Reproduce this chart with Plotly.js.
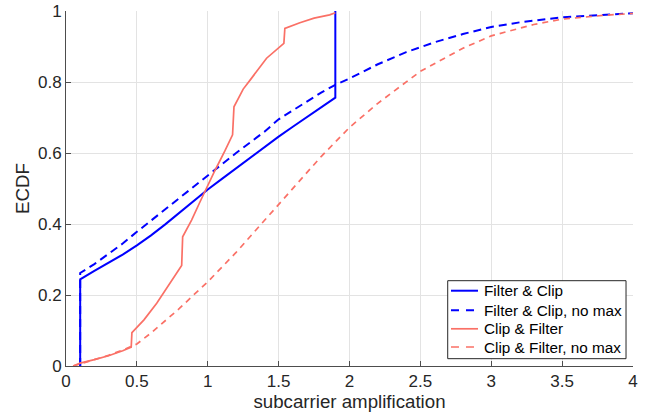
<!DOCTYPE html>
<html>
<head>
<meta charset="utf-8">
<script src="https://cdn.plot.ly/plotly-3.0.1.min.js"></script>
<style>html,body{margin:0;padding:0;background:#fff;}#chart{width:649px;height:418px;}</style>
</head>
<body>
<div id="chart"></div>
<script>
// Filter & Clip (solid blue)
const fcX = [0.1, 0.1, 0.2, 0.3, 0.4, 0.5, 0.6, 0.7, 0.8, 0.9, 1.0, 1.1, 1.2, 1.3, 1.4, 1.5, 1.6, 1.7, 1.8, 1.9, 1.9];
const fcY = [0.0, 0.244, 0.268, 0.291, 0.314, 0.34, 0.368, 0.399, 0.432, 0.465, 0.497, 0.527, 0.557, 0.587, 0.617, 0.646, 0.674, 0.702, 0.73, 0.756, 1.0];

// Filter & Clip, no max (dashed blue)
const fcnX = [0.1, 0.1, 0.2, 0.3, 0.4, 0.5, 0.6, 0.7, 0.8, 0.9, 1.0, 1.1, 1.2, 1.3, 1.4, 1.5, 1.6, 1.7, 1.8, 1.9, 2.0, 2.2, 2.4, 2.6, 2.8, 3.0, 3.2, 3.5, 3.8, 4.0];
const fcnY = [0.0, 0.262, 0.287, 0.315, 0.345, 0.378, 0.41, 0.44, 0.472, 0.505, 0.537, 0.568, 0.6, 0.63, 0.66, 0.695, 0.72, 0.745, 0.77, 0.792, 0.81, 0.85, 0.884, 0.912, 0.935, 0.955, 0.968, 0.982, 0.99, 0.994];

// Clip & Filter (solid red)
const cfX = [0.05, 0.1, 0.2, 0.3, 0.4, 0.46, 0.465, 0.55, 0.64, 0.72, 0.816, 0.823, 0.886, 0.945, 0.985, 1.05, 1.12, 1.175, 1.185, 1.25, 1.3, 1.415, 1.537, 1.544, 1.65, 1.75, 1.86, 1.9];
const cfY = [0.0, 0.008, 0.018, 0.029, 0.043, 0.053, 0.094, 0.13, 0.177, 0.225, 0.283, 0.364, 0.411, 0.462, 0.496, 0.55, 0.605, 0.651, 0.73, 0.78, 0.806, 0.867, 0.909, 0.951, 0.967, 0.98, 0.989, 0.995];

// Clip & Filter, no max (dashed red)
const cfnX = [0.05, 0.1, 0.2, 0.3, 0.4, 0.5, 0.6, 0.7, 0.8, 0.9, 1.0, 1.2, 1.4, 1.5, 1.6, 1.8, 2.0, 2.2, 2.5, 2.8, 3.0, 3.3, 3.5, 3.8, 4.0];
const cfnY = [0.0, 0.006, 0.018, 0.03, 0.045, 0.062, 0.093, 0.127, 0.162, 0.2, 0.237, 0.32, 0.41, 0.455, 0.5, 0.59, 0.672, 0.74, 0.83, 0.895, 0.93, 0.962, 0.977, 0.988, 0.993];

const names = ['Filter & Clip', 'Filter & Clip, no max', 'Clip & Filter', 'Clip & Filter, no max'];
const xTicks = [0, 0.5, 1, 1.5, 2, 2.5, 3, 3.5, 4];
const xTickText = ['0', '0.5', '1', '1.5', '2', '2.5', '3', '3.5', '4'];
const yTicks = [0, 0.2, 0.4, 0.6, 0.8, 1];
const yTickText = ['0', '0.2', '0.4', '0.6', '0.8', '1'];

const BLUE = '#0000ff', RED = '#fa7066';
const styles = [
  {color: BLUE, width: 2, dash: 'solid'},
  {color: BLUE, width: 2, dash: '8px,5px'},
  {color: RED, width: 1.7, dash: 'solid'},
  {color: RED, width: 1.7, dash: '6px,5px'}
];
const series = [[fcX, fcY], [fcnX, fcnY], [cfX, cfY], [cfnX, cfnY]];

const traces = series.map((s, i) => ({
  x: s[0], y: s[1], name: names[i], mode: 'lines', line: styles[i], showlegend: false
}));

const FAM = 'Liberation Sans, Arial, sans-serif';
const tickFont = {family: FAM, size: 17, color: '#262626'};
const titleFont = {family: FAM, size: 18.7, color: '#262626'};
const legFont = {family: FAM, size: 15.3, color: '#000'};

// custom legend box (paper coordinates) to match the compact MATLAB legend
const box = {x0: 0.6732, x1: 0.9877, y0: 0.0206, y1: 0.2403};
const rowY = [0.2121, 0.1569, 0.1048, 0.0535];
const sampX = [0.679, 0.7266];
const textX = 0.7345;

const shapes = [{type: 'rect', xref: 'paper', yref: 'paper', x0: box.x0, x1: box.x1, y0: box.y0, y1: box.y1,
  line: {color: '#262626', width: 1}, fillcolor: '#ffffff', layer: 'above'}];
const annotations = [];
names.forEach((n, i) => {
  const st = styles[i];
  shapes.push({type: 'line', xref: 'paper', yref: 'paper', x0: sampX[0], x1: sampX[1], y0: rowY[i], y1: rowY[i],
    line: {color: st.color, width: st.width, dash: st.dash === 'solid' ? 'solid' : '8px,7px'}, layer: 'above'});
  annotations.push({xref: 'paper', yref: 'paper', x: textX, y: rowY[i], xanchor: 'left', yanchor: 'middle',
    text: n, showarrow: false, font: legFont});
});

const layout = {
  width: 649, height: 418,
  margin: {l: 66, r: 16, t: 11, b: 52},
  paper_bgcolor: '#fff', plot_bgcolor: '#fff',
  showlegend: false,
  font: tickFont,
  xaxis: {
    range: [0, 4], tickvals: xTicks, ticktext: xTickText,
    showgrid: true, gridcolor: '#e3e3e3', gridwidth: 1,
    zeroline: false, showline: true, linecolor: '#4d4d4d', linewidth: 1,
    ticks: 'inside', ticklen: 5, tickcolor: '#4d4d4d',
    tickfont: tickFont,
    title: {text: 'subcarrier amplification', font: titleFont, standoff: 4}
  },
  yaxis: {
    range: [0, 1], tickvals: yTicks, ticktext: yTickText,
    showgrid: true, gridcolor: '#e3e3e3', gridwidth: 1,
    zeroline: false, showline: true, linecolor: '#4d4d4d', linewidth: 1,
    ticks: 'inside', ticklen: 5, tickcolor: '#4d4d4d',
    tickfont: tickFont,
    title: {text: 'ECDF', font: titleFont, standoff: 3}
  },
  shapes: shapes,
  annotations: annotations
};

Plotly.newPlot('chart', traces, layout, {displayModeBar: false, staticPlot: true});
</script>
</body>
</html>
